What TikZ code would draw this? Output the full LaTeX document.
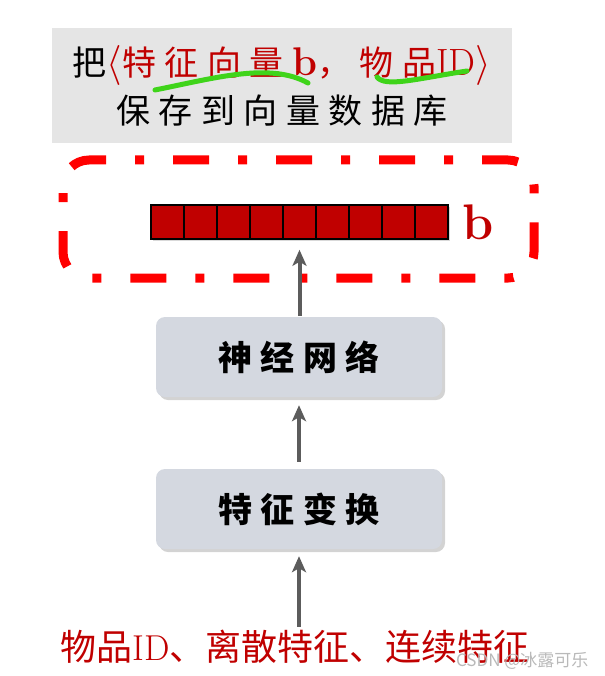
\RequirePackage{fix-cm}
\documentclass[tikz,border=0pt]{standalone}
\usepackage{fontspec}
\usepackage{xcolor}
\usepackage{tikz}
\usetikzlibrary{arrows.meta,positioning,shadows}
\newfontfamily\cjk{Noto Sans CJK SC}
\newfontfamily\cjkw[LetterSpace=25]{Noto Sans CJK SC}
\definecolor{cred}{HTML}{C00000}
\definecolor{cframe}{HTML}{FF0000}
\definecolor{cgray}{HTML}{E5E5E5}
\definecolor{cblk}{HTML}{D4D8E0}
\definecolor{carr}{HTML}{5C5C5C}
\definecolor{cmark}{HTML}{3FD41A}
\newcommand{\tallang}[1]{{\fontsize{40}{40}\selectfont$#1$}}
\tikzset{
  blk/.style={rectangle, rounded corners=9pt, fill=cblk, minimum width=286pt,
    minimum height=80pt, inner sep=0pt,
    drop shadow={shadow xshift=3pt, shadow yshift=-3pt, opacity=.35, fill=gray},
    font=\fontsize{34}{40}\selectfont\cjkw\bfseries},
  cell/.style={rectangle, draw=black, line width=1.6pt, fill=cred,
    minimum width=33pt, minimum height=34pt, inner sep=0pt},
  arr/.style={-{Stealth[length=16pt,width=14pt,inset=4pt]}, line width=4pt, draw=carr},
  frame/.style={rectangle, rounded corners=26pt, draw=cframe, line width=9pt,
    dash pattern=on 36pt off 29pt on 9pt off 29pt, dash phase=10pt,
    minimum width=471pt, minimum height=118pt},
  hand/.style={draw=cmark, line width=5pt, line cap=round},
}
\begin{document}
\begin{tikzpicture}[x=1pt, y=-1pt]
  \useasboundingbox (0,0) rectangle (604,676);
  % title
  \node[fill=cgray, minimum width=460pt, minimum height=115pt, align=center,
    font=\fontsize{34}{48}\selectfont] (title) at (282,85.5)
    {{\cjkw 把}\textcolor{cred}{\tallang\langle{\cjkw 特征向量}{\fontsize{40}{40}\selectfont\textbf{b}}{\cjkw ，物品}{\fontsize{38}{40}\selectfont ID}\tallang\rangle}\\
     {\cjkw 保存到向量数据库}};
  \draw[hand] (155,90) .. controls (215,78) and (270,62) .. (308,83);
  \draw[hand] (377,77) .. controls (385,88) and (420,78) .. (467,71);

  % vector b
  \foreach \i in {1,...,9}
    \node[cell, drop shadow={shadow xshift=2pt, shadow yshift=-2pt, opacity=.3, fill=gray}]
      (c\i) at (151+33*\i-16.5,222) {};
  \node[text=cred, font=\fontsize{50}{50}\selectfont\bfseries, right=10pt of c9] (b) {b};
  \node[frame] (box) at (298.5,219) {};

  \node[blk] (nn) at (299,357) {神经网络};
  \node[blk] (ft) at (299,509) {特征变换};
  \node[text=cred, font=\fontsize{36}{40}\selectfont] (inp) at (295,647)
    {{\cjk 物品}ID{\cjk 、离散特征、连续特征}};
  \node[text=gray!55, font=\fontsize{17}{20}\selectfont\cjk, anchor=east] (wm) at (592,661)
    {CSDN @冰露可乐};

  \draw[arr, shorten <=1pt, shorten >=10pt] (nn.north -| c5.south) -- (c5.south);
  \draw[arr, shorten <=7pt, shorten >=8pt] (ft.north) -- (nn.south);
  \draw[arr, shorten <=0pt, shorten >=7pt] (inp.north -| ft.south) -- (ft.south);
\end{tikzpicture}
\end{document}
